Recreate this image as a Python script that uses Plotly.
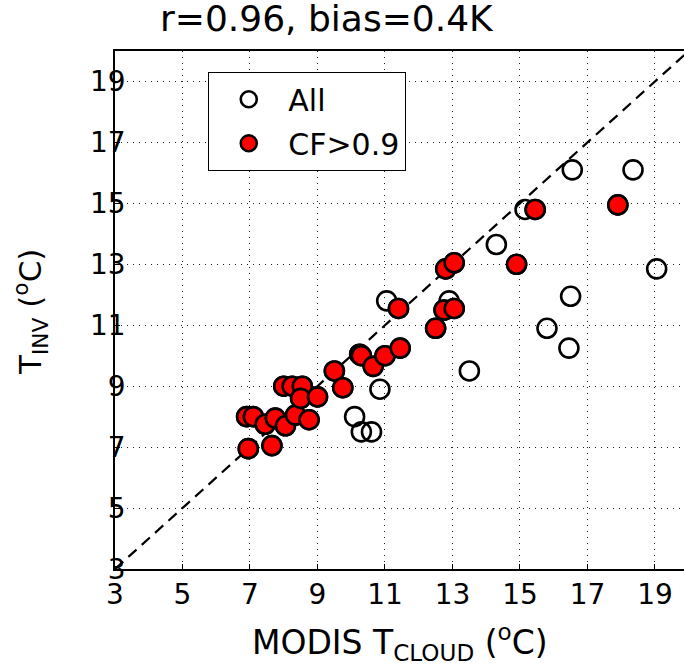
import plotly.graph_objects as go

# ---- data ----
# points with CF > 0.9 (red filled)
cf_x = [6.9, 7.1, 6.95, 7.65, 7.45, 7.75, 8.05, 8.35, 8.75, 8.0, 8.25, 8.55, 8.5, 9.0,
        9.5, 9.75, 10.25, 10.3, 10.65, 11.0, 11.45, 11.4, 12.5, 12.75, 13.05, 12.8,
        13.05, 14.9, 15.45, 17.9]
cf_y = [8.0, 8.0, 6.95, 7.05, 7.75, 7.95, 7.7, 8.05, 7.9, 9.0, 9.0, 9.0, 8.6, 8.65,
        9.5, 8.95, 10.05, 10.0, 9.65, 10.0, 10.25, 11.55, 10.9, 11.5, 11.55, 12.85,
        13.05, 13.0, 14.8, 14.95]
# remaining points (only in "All")
other_x = [10.85, 10.1, 10.3, 10.6, 11.05, 12.9, 13.5, 14.3, 15.15, 16.55, 18.35,
           19.05, 16.5, 15.8, 16.45]
other_y = [8.9, 8.0, 7.5, 7.5, 11.8, 11.8, 9.5, 13.65, 14.8, 16.1, 16.1,
           12.85, 11.95, 10.9, 10.25]
all_x = other_x + cf_x
all_y = other_y + cf_y

one_to_one = [3, 20]
tick_vals = [3, 5, 7, 9, 11, 13, 15, 17, 19]
x_range = [3, 19.86]
y_range = [3, 20]

title_text = "r=0.96, bias=0.4K"
x_title = "MODIS T<sub>CLOUD</sub> (<sup>o</sup>C)"
y_title = "T<sub>INV</sub> (<sup>o</sup>C)"

FONT = "DejaVu Sans"

fig = go.Figure()
fig.add_trace(go.Scatter(
    x=one_to_one, y=one_to_one, mode="lines",
    line=dict(color="black", width=2.2, dash="11px,7px"),
    showlegend=False, hoverinfo="skip"))
fig.add_trace(go.Scatter(
    x=all_x, y=all_y, mode="markers", name="All", legendgroup="a",
    marker=dict(symbol="circle", size=19, color="rgba(0,0,0,0)",
                line=dict(color="black", width=2.6))))
fig.add_trace(go.Scatter(
    x=cf_x, y=cf_y, mode="markers", name="CF>0.9", legendgroup="b",
    marker=dict(symbol="circle", size=19, color="#ff0000",
                line=dict(color="black", width=2.6))))

axis_common = dict(
    tickvals=tick_vals, ticks="inside", ticklen=5, tickcolor="black",
    showline=True, linecolor="black", linewidth=1.5,
    showgrid=True, gridcolor="#222", gridwidth=1, griddash="1px,5px",
    zeroline=False, tickfont=dict(family=FONT, size=28, color="black"),
)
fig.update_xaxes(range=x_range, mirror=True, **axis_common)
fig.update_yaxes(range=y_range, mirror=False, ticklabelstandoff=-18, **axis_common)

fig.update_layout(
    width=684, height=670,
    margin=dict(l=115, r=0, t=51, b=101),
    plot_bgcolor="white", paper_bgcolor="white",
    font=dict(family=FONT, color="black"),
    legend=dict(
        x=0.1634, y=0.9595, xanchor="left", yanchor="top",
        bgcolor="white", bordercolor="black", borderwidth=1.3,
        font=dict(family=FONT, size=30, color="black"),
        tracegroupgap=2, traceorder="grouped",
        itemsizing="trace", itemwidth=69,
    ),
    annotations=[
        dict(text=title_text, xref="paper", yref="paper",
             x=(326.5 - 115) / 569, y=1 + (51 - 18) / 518,
             xanchor="center", yanchor="middle", showarrow=False,
             font=dict(family=FONT, size=36, color="black")),
        dict(text=x_title, xref="paper", yref="paper",
             x=(400 - 115) / 569, y=-(642 - 569) / 518,
             xanchor="center", yanchor="middle", showarrow=False,
             font=dict(family=FONT, size=33, color="black")),
        dict(text=y_title, xref="paper", yref="paper",
             x=-(115 - 30) / 569, y=(569 - 312) / 518,
             xanchor="center", yanchor="middle", showarrow=False, textangle=-90,
             font=dict(family=FONT, size=31, color="black")),
    ],
)

fig.write_html("out.html", config={"displayModeBar": False},
               post_script="document.body.style.margin='0';document.body.style.padding='0';")
